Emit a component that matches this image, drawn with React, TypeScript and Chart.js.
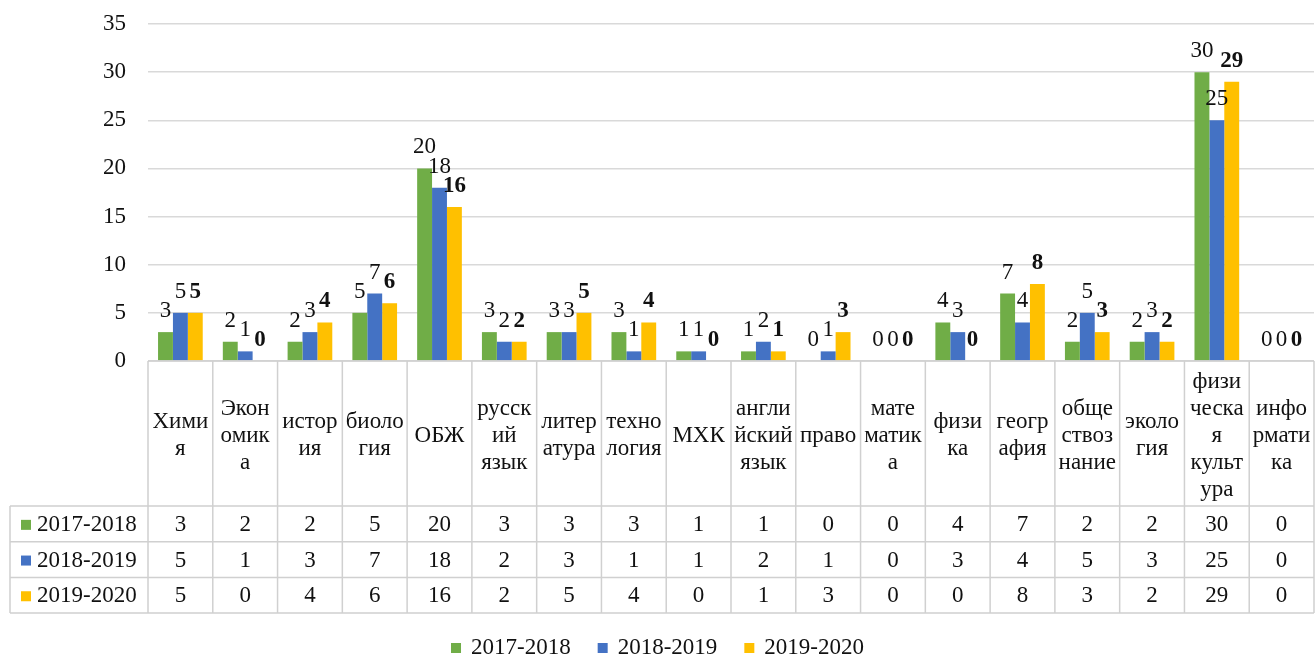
import React, { useEffect, useRef } from "react";
import { Chart, registerables } from "chart.js";

Chart.register(...registerables);

// ---- data ----
const categories: string[][] = [
  ["Хими", "я"],
  ["Экон", "омик", "а"],
  ["истор", "ия"],
  ["биоло", "гия"],
  ["ОБЖ"],
  ["русск", "ий", "язык"],
  ["литер", "атура"],
  ["техно", "логия"],
  ["МХК"],
  ["англи", "йский", "язык"],
  ["право"],
  ["мате", "матик", "а"],
  ["физи", "ка"],
  ["геогр", "афия"],
  ["обще", "ствоз", "нание"],
  ["эколо", "гия"],
  ["физи", "ческа", "я", "культ", "ура"],
  ["инфо", "рмати", "ка"],
];
const seriesNames = ["2017-2018", "2018-2019", "2019-2020"];
const values2017_2018 = [3, 2, 2, 5, 20, 3, 3, 3, 1, 1, 0, 0, 4, 7, 2, 2, 30, 0];
const values2018_2019 = [5, 1, 3, 7, 18, 2, 3, 1, 1, 2, 1, 0, 3, 4, 5, 3, 25, 0];
const values2019_2020 = [5, 0, 4, 6, 16, 2, 5, 4, 0, 1, 3, 0, 0, 8, 3, 2, 29, 0];
const yMin = 0;
const yMax = 35;
const yStep = 5;
const seriesColors = ["#70AD47", "#4472C4", "#FFC000"];
const boldLabels = [false, false, true];

const FONT = '"Liberation Serif", "Times New Roman", serif';
const FONT_SIZE = 23;
const TEXT_COLOR = "#111111";
const LINE_COLOR = "#d0d0d0";

const valueLabelPlugin = {
  id: "valueLabels",
  afterDatasetsDraw(chart: any) {
    const ctx = chart.ctx;
    ctx.save();
    ctx.fillStyle = TEXT_COLOR;
    ctx.textAlign = "center";
    ctx.textBaseline = "alphabetic";
    chart.data.datasets.forEach((ds: any, di: number) => {
      const meta = chart.getDatasetMeta(di);
      ctx.font = `${boldLabels[di] ? "bold " : ""}${FONT_SIZE}px ${FONT}`;
      meta.data.forEach((bar: any, i: number) => {
        ctx.fillText(String(ds.data[i]), bar.x, bar.y - 15);
      });
    });
    ctx.restore();
  },
};

const tablePlugin = {
  id: "dataTable",
  afterDraw(chart: any) {
    const ctx = chart.ctx;
    const area = chart.chartArea;
    const labels = chart.data.labels as string[][];
    const n = labels.length;
    const step = (area.right - area.left) / n;
    const top = area.bottom;
    const headerBottom = 506;
    const rowH = 35.7;
    const tableLeft = 10;
    const rows = chart.data.datasets.length;
    const tableBottom = headerBottom + rows * rowH;

    ctx.save();
    ctx.strokeStyle = LINE_COLOR;
    ctx.lineWidth = 1.5;
    ctx.beginPath();
    ctx.moveTo(area.left, top);
    ctx.lineTo(area.right, top);
    for (let r = 0; r <= rows; r++) {
      const y = headerBottom + r * rowH;
      ctx.moveTo(tableLeft, y);
      ctx.lineTo(area.right, y);
    }
    ctx.moveTo(tableLeft, headerBottom);
    ctx.lineTo(tableLeft, tableBottom);
    for (let i = 0; i <= n; i++) {
      const x = area.left + i * step;
      ctx.moveTo(x, top);
      ctx.lineTo(x, tableBottom);
    }
    ctx.stroke();

    // header labels
    ctx.fillStyle = TEXT_COLOR;
    ctx.font = `${FONT_SIZE}px ${FONT}`;
    ctx.textAlign = "center";
    ctx.textBaseline = "middle";
    const lineH = 27;
    const headerCenter = (top + headerBottom) / 2 + 2;
    labels.forEach((lines, i) => {
      const cx = chart.scales.x.getPixelForValue(i);
      const startY = headerCenter - ((lines.length - 1) * lineH) / 2;
      lines.forEach((ln, k) => ctx.fillText(ln, cx, startY + k * lineH));
    });

    // rows
    chart.data.datasets.forEach((ds: any, r: number) => {
      const cy = headerBottom + r * rowH + rowH / 2 + 1;
      ctx.fillStyle = ds.backgroundColor;
      ctx.fillRect(21, cy - 5, 10, 10);
      ctx.fillStyle = TEXT_COLOR;
      ctx.textAlign = "left";
      ctx.fillText(ds.label, 37, cy);
      ctx.textAlign = "center";
      ds.data.forEach((v: number, i: number) => {
        const cx = chart.scales.x.getPixelForValue(i);
        ctx.fillText(String(v), cx, cy);
      });
    });

    // bottom legend
    const legendY = 648;
    const boxSize = 10;
    const boxGap = 10;
    const itemGap = 27;
    const widths = chart.data.datasets.map(
      (ds: any) => boxSize + boxGap + ctx.measureText(ds.label).width
    );
    const total =
      widths.reduce((a: number, b: number) => a + b, 0) +
      itemGap * (widths.length - 1);
    let lx = chart.width / 2 - total / 2;
    chart.data.datasets.forEach((ds: any, r: number) => {
      ctx.fillStyle = ds.backgroundColor;
      ctx.fillRect(lx, legendY - boxSize / 2, boxSize, boxSize);
      ctx.fillStyle = TEXT_COLOR;
      ctx.textAlign = "left";
      ctx.fillText(ds.label, lx + boxSize + boxGap, legendY);
      lx += widths[r] + itemGap;
    });
    ctx.restore();
  },
};

export default function App() {
  const canvasRef = useRef<HTMLCanvasElement | null>(null);

  useEffect(() => {
    document.body.style.margin = "0";
    const canvas = canvasRef.current;
    if (!canvas) return;
    const seriesValues = [values2017_2018, values2018_2019, values2019_2020];
    const chart = new Chart(canvas, {
      type: "bar",
      data: {
        labels: categories,
        datasets: seriesNames.map((name, i) => ({
          label: name,
          data: seriesValues[i],
          backgroundColor: seriesColors[i],
          borderWidth: 0,
          categoryPercentage: 0.69,
          barPercentage: 1.0,
        })),
      },
      options: {
        animation: false,
        responsive: false,
        maintainAspectRatio: false,
        layout: { padding: { top: 24, right: 1, bottom: 0, left: 0 } },
        plugins: {
          legend: { display: false },
          tooltip: { enabled: false },
        },
        scales: {
          x: {
            ticks: { display: false },
            grid: { display: false },
            border: { display: false },
            afterFit: (scale: any) => {
              scale.height = 296;
              scale.paddingLeft = 0;
              scale.paddingRight = 0;
            },
          },
          y: {
            min: yMin,
            max: yMax,
            ticks: {
              stepSize: yStep,
              padding: 22,
              color: TEXT_COLOR,
              font: { family: FONT, size: FONT_SIZE },
            },
            grid: { color: "#d9d9d9", lineWidth: 1.5, drawTicks: false },
            border: { display: false },
            afterFit: (scale: any) => {
              scale.width = 148;
              scale.paddingTop = 0;
              scale.paddingBottom = 0;
            },
          },
        },
      },
      plugins: [valueLabelPlugin, tablePlugin],
    });
    return () => chart.destroy();
  }, []);

  return (
    <div style={{ position: "absolute", left: 0, top: 0, width: 1315, height: 657 }}>
      <canvas ref={canvasRef} width={1315} height={657} />
    </div>
  );
}
